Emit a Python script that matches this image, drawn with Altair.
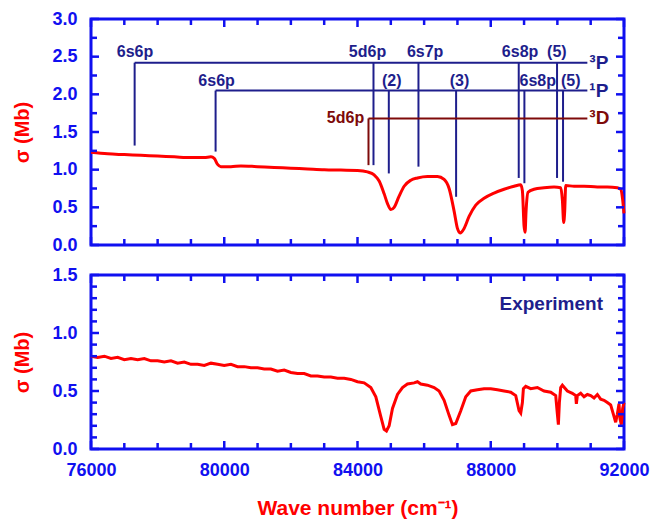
import altair as alt
import pandas as pd

# ---------------- data ----------------
theory_x = [76000, 76500, 77000, 77500, 78000, 78500, 79000, 79400, 79600, 79700, 79800, 79900,
            80200, 80500, 81000, 81500, 82000, 82500, 83000, 83500, 84000, 84300, 84500, 84650,
            84800, 84900, 85000, 85100, 85250, 85400, 85600, 85800, 86100, 86400, 86600, 86750,
            86900, 87000, 87080, 87200, 87350, 87550, 87800, 88100, 88400, 88700, 88900, 88950,
            89000, 89030, 89060, 89120, 89300, 89600, 89900, 90100, 90150, 90190, 90220, 90250,
            90500, 90800, 91200, 91500, 91800, 91900, 91960, 92000]
theory_y = [1.23, 1.21, 1.20, 1.19, 1.18, 1.17, 1.16, 1.16, 1.17, 1.15, 1.07, 1.04,
            1.04, 1.05, 1.04, 1.03, 1.02, 1.01, 1.00, 0.995, 0.99, 0.97, 0.93, 0.85,
            0.68, 0.55, 0.47, 0.50, 0.65, 0.78, 0.86, 0.89, 0.91, 0.91, 0.87, 0.75,
            0.45, 0.22, 0.16, 0.22, 0.38, 0.53, 0.62, 0.69, 0.74, 0.78, 0.80, 0.72,
            0.25, 0.17, 0.45, 0.70, 0.74, 0.76, 0.77, 0.76, 0.60, 0.30, 0.45, 0.79,
            0.78, 0.78, 0.77, 0.77, 0.76, 0.74, 0.60, 0.42]

exp_x = [76000, 76200, 76400, 76600, 76800, 77000, 77200, 77400, 77600, 77800, 78000, 78200,
         78400, 78600, 78800, 79000, 79200, 79400, 79600, 79800, 80000, 80200, 80400, 80600,
         80800, 81000, 81200, 81400, 81600, 81800, 82000, 82200, 82400, 82600, 82800, 83000,
         83200, 83400, 83600, 83800, 84000, 84200, 84400, 84550, 84700, 84800, 84870, 84950,
         85050, 85200, 85350, 85500, 85700, 85800, 85900, 86100, 86300, 86450, 86600, 86750,
         86850, 86950, 87100, 87250, 87400, 87600, 87800, 88000, 88200, 88400, 88600, 88750,
         88850, 88900, 88950, 88980, 89050, 89200, 89400, 89600, 89800, 89950, 90000, 90030,
         90060, 90100, 90150, 90300, 90450, 90550, 90570, 90600, 90700, 90800, 90900, 91000,
         91100, 91200, 91300, 91400, 91500, 91600, 91680, 91750, 91800, 91850, 91880, 91920,
         91960, 92000]
exp_y = [0.80, 0.79, 0.80, 0.78, 0.79, 0.77, 0.78, 0.77, 0.78, 0.76, 0.76, 0.75,
         0.76, 0.74, 0.75, 0.73, 0.73, 0.72, 0.74, 0.73, 0.72, 0.73, 0.71, 0.71,
         0.70, 0.70, 0.69, 0.69, 0.67, 0.68, 0.66, 0.65, 0.65, 0.63, 0.63, 0.62,
         0.62, 0.61, 0.61, 0.60, 0.58, 0.57, 0.53, 0.45, 0.28, 0.17, 0.155, 0.20,
         0.35, 0.47, 0.53, 0.56, 0.57, 0.58, 0.56, 0.55, 0.53, 0.50, 0.42, 0.29,
         0.21, 0.22, 0.33, 0.45, 0.50, 0.51, 0.52, 0.52, 0.51, 0.50, 0.49, 0.46,
         0.33, 0.31, 0.40, 0.52, 0.54, 0.52, 0.53, 0.50, 0.49, 0.46, 0.30, 0.21,
         0.40, 0.53, 0.55, 0.50, 0.48, 0.46, 0.39, 0.46, 0.48, 0.45, 0.47, 0.46,
         0.44, 0.47, 0.43, 0.42, 0.40, 0.38, 0.30, 0.23, 0.30, 0.39, 0.26, 0.21,
         0.35, 0.40]

# 3P series annotation
trip_names = ["6s6p", "5d6p", "6s7p", "6s8p", "(5)"]
trip_x = [77310, 84480, 85830, 88840, 89990]
trip_end = [1.32, 1.06, 1.04, 0.89, 0.89]
trip_label_x = [77320, 84300, 86030, 88880, 89985]
trip_level = 2.42
trip_label_y = 2.56

# 1P series annotation
sing_names = ["6s6p", "(2)", "(3)", "6s8p", "(5)"]
sing_x = [79740, 84940, 86960, 89010, 90170]
sing_end = [1.24, 0.95, 0.64, 0.82, 0.84]
sing_label_x = [79770, 85030, 87060, 89410, 90400]
sing_level = 2.05
sing_label_y = 2.18

# 3D series annotation
d_names = ["5d6p"]
d_x = [84330]
d_end = [1.06]
d_label_x = [84200]
d_level = 1.68

series_end_x = 90900
tag_names = ["³P", "¹P", "³D"]
tag_x = 90960
tag_levels = [trip_level, sing_level, d_level]

exp_label = "Experiment"
exp_label_x = 91370
exp_label_y = 1.25

x_ticks = list(range(76000, 92001, 1000))
x_major = [76000, 80000, 84000, 88000, 92000]
y1_ticks = [i * 0.25 for i in range(13)]
y1_major = [i * 0.5 for i in range(7)]
y2_ticks = [i * 0.1 for i in range(16)]
y2_major = [0.0, 0.5, 1.0, 1.5]

# ---------------- styling ----------------
BLUE = "#1010F0"
NAVY = "#1E1E8C"
DRED = "#7E0A0A"
RED = "#FF0000"
FONT = "Liberation Sans"
W = 533
H1 = 226
H2 = 174
XDOM = [76000, 92000]


def xenc(axis=None, field="x"):
    if axis is None:
        return alt.X(f"{field}:Q", scale=alt.Scale(domain=XDOM, nice=False, zero=False), axis=None)
    return alt.X(f"{field}:Q", scale=alt.Scale(domain=XDOM, nice=False, zero=False), axis=axis)


x_axis_bottom = alt.Axis(values=x_major, format="d", title="Wave number (cm⁻¹)",
                         labelFontSize=18, labelFont=FONT, labelFontWeight="bold", labelColor=BLUE,
                         titleFontSize=21, titleFont=FONT, titleFontWeight="bold", titleColor=RED,
                         labelFlush=False, labelOverlap=False,
                         ticks=False, domain=False, grid=False, labelPadding=12, titlePadding=18)


def yenc(domain, values, field="y"):
    ax = alt.Axis(values=values, format=".1f", title="σ (Mb)",
                  labelFontSize=18, labelFont=FONT, labelFontWeight="bold", labelColor=BLUE,
                  titleFontSize=20, titleFont=FONT, titleFontWeight="bold", titleColor=RED,
                  labelFlush=False,
                  ticks=False, domain=False, grid=False, labelPadding=14, titlePadding=19)
    return alt.Y(f"{field}:Q", scale=alt.Scale(domain=domain, nice=False, zero=False), axis=ax)


def tick_layers(h, ydom, yvals, yticks, ymajor, xaxis_bottom):
    layers = []
    minor_x = [v for v in x_ticks if v not in x_major]
    for vals, ln in ((x_major, 8), (minor_x, 6)):
        df = pd.DataFrame({"x": vals})
        for (a, b) in ((h - ln, h), (0, ln)):
            layers.append(alt.Chart(df).mark_rule(color=BLUE, strokeWidth=2.5).encode(
                x=xenc(xaxis_bottom), y=alt.value(a), y2=alt.value(b)))
    minor_y = [v for v in yticks if all(abs(v - m) > 1e-9 for m in ymajor)]
    for vals, ln in ((ymajor, 8), (minor_y, 6)):
        df = pd.DataFrame({"y": vals})
        for (a, b) in ((0, ln), (W - ln, W)):
            layers.append(alt.Chart(df).mark_rule(color=BLUE, strokeWidth=2.5).encode(
                y=yenc(ydom, yvals), x=alt.value(a), x2=alt.value(b)))
    return layers


# ---------------- top panel ----------------
Y1DOM = [0, 3]
theory_df = pd.DataFrame({"x": theory_x, "y": theory_y})
top_line = alt.Chart(theory_df).mark_line(color=RED, strokeWidth=3, interpolate="monotone").encode(
    x=xenc(), y=yenc(Y1DOM, y1_major))


def series_layers(names, xs, ends, label_xs, level, label_y, color, label_align, label_dx=0,
                  label_baseline="middle"):
    vdf = pd.DataFrame({"x": xs, "y": [level] * len(xs), "y2": ends})
    vert = alt.Chart(vdf).mark_rule(color=color, strokeWidth=2).encode(
        x=xenc(), y=yenc(Y1DOM, y1_major), y2="y2:Q")
    hdf = pd.DataFrame({"x": [min(xs)], "x2": [series_end_x], "y": [level]})
    hor = alt.Chart(hdf).mark_rule(color=color, strokeWidth=2).encode(
        x=xenc(), x2="x2:Q", y=yenc(Y1DOM, y1_major))
    ldf = pd.DataFrame({"x": label_xs, "y": [label_y] * len(label_xs), "t": names})
    lab = alt.Chart(ldf).mark_text(color=color, font=FONT, fontSize=16, fontWeight="bold",
                                   align=label_align, baseline=label_baseline, dx=label_dx).encode(
        x=xenc(), y=yenc(Y1DOM, y1_major), text="t:N")
    return [vert, hor, lab]


trip_layers = series_layers(trip_names, trip_x, trip_end, trip_label_x, trip_level, trip_label_y,
                            NAVY, "center")
sing_layers = series_layers(sing_names, sing_x, sing_end, sing_label_x, sing_level, sing_label_y,
                            NAVY, "center")
d_layers = series_layers(d_names, d_x, d_end, d_label_x, d_level, d_level, DRED, "right")

tag_df = pd.DataFrame({"x": [tag_x] * 3, "y": tag_levels, "t": tag_names,
                       "c": ["P", "P", "D"]})
tags = alt.Chart(tag_df).mark_text(font=FONT, fontSize=19, fontWeight="bold", align="left",
                                   baseline="middle").encode(
    x=xenc(), y=yenc(Y1DOM, y1_major), text="t:N",
    color=alt.Color("c:N", scale=alt.Scale(domain=["P", "D"], range=[NAVY, DRED]), legend=None))

top = alt.layer(top_line, *trip_layers, *sing_layers, *d_layers, tags,
                *tick_layers(H1, Y1DOM, y1_major, y1_ticks, y1_major, None)).properties(
    width=W, height=H1)

# ---------------- bottom panel ----------------
Y2DOM = [0, 1.5]
exp_df = pd.DataFrame({"x": exp_x, "y": exp_y})
bot_line = alt.Chart(exp_df).mark_line(color=RED, strokeWidth=3).encode(
    x=xenc(x_axis_bottom), y=yenc(Y2DOM, y2_major))
exp_txt = alt.Chart(pd.DataFrame({"x": [exp_label_x], "y": [exp_label_y], "t": [exp_label]})).mark_text(
    color=NAVY, font=FONT, fontSize=19, fontWeight="bold", align="right", baseline="middle").encode(
    x=xenc(x_axis_bottom), y=yenc(Y2DOM, y2_major), text="t:N")

bottom = alt.layer(bot_line, exp_txt,
                   *tick_layers(H2, Y2DOM, y2_major, y2_ticks, y2_major, x_axis_bottom)).properties(
    width=W, height=H2)

chart = alt.vconcat(top, bottom, spacing=8).properties(
    padding={"left": 3, "top": 0, "right": 5, "bottom": 5}
).configure_view(stroke=BLUE, strokeWidth=3).configure_axis(grid=False)

chart.save("out.html", embed_options={"renderer": "svg", "actions": False})
